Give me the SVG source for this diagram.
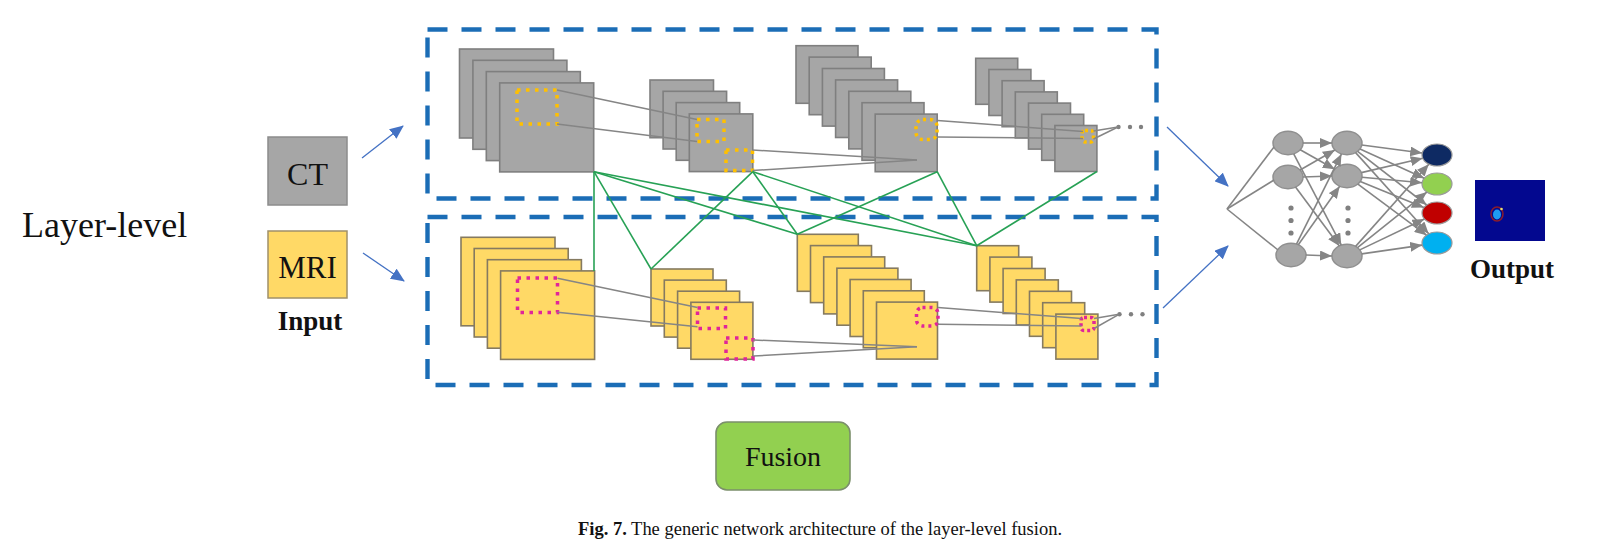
<svg xmlns="http://www.w3.org/2000/svg" width="1602" height="560" viewBox="0 0 1602 560">
<style>
.g{fill:#a6a6a6;stroke:#7f7f7f;stroke-width:1.6}
.y{fill:#ffd966;stroke:#857a60;stroke-width:1.6}
.dy{fill:none;stroke:#ffc000;stroke-width:3.5;stroke-dasharray:3.5 5.5}
.dm{fill:none;stroke:#e0259a;stroke-width:3.5;stroke-dasharray:3.5 5.5}
.gl{stroke:#858585;stroke-width:1.5;fill:none}
.grn{stroke:#27a155;stroke-width:1.6;fill:none}
.dash{fill:none;stroke:#1b6db6;stroke-width:4.4;stroke-dasharray:20 14}
.nn{fill:#a6a6a6;stroke:#8f8f8f;stroke-width:1.5}
.ne{stroke:#858585;stroke-width:1.6;fill:none}
.ar{stroke:#858585;stroke-width:1.6;fill:none;marker-end:url(#ag)}
.bl{stroke:#4472c4;stroke-width:1.3;fill:none;marker-end:url(#ab)}
.dot{fill:#808080}
.serif{font-family:"Liberation Serif","Times New Roman",serif;fill:#111}
</style>
<defs>
<marker id="ab" markerUnits="userSpaceOnUse" markerWidth="14" markerHeight="12" refX="13" refY="6" orient="auto"><path d="M0,0 L14,6 L0,12 z" fill="#4472c4"/></marker>
<marker id="ag" markerUnits="userSpaceOnUse" markerWidth="12" markerHeight="10" refX="12" refY="5" orient="auto"><path d="M0,0 L12,5 L0,10 z" fill="#858585"/></marker>
</defs>
<rect width="1602" height="560" fill="#ffffff"/>

<g id="label-layer-level"><text class="serif" x="22" y="237" font-size="36">Layer-level</text></g>

<g id="node-ct"><rect x="268" y="137" width="79" height="68" fill="#a6a6a6" stroke="#8c8c8c" stroke-width="1.5"/><text class="serif" x="307.5" y="185" font-size="32" text-anchor="middle">CT</text></g>
<g id="node-mri"><rect x="268" y="231" width="79" height="67" fill="#ffd966" stroke="#a0906a" stroke-width="1.5"/><text class="serif" x="307.5" y="278" font-size="31" text-anchor="middle">MRI</text></g>
<g id="label-input"><text class="serif" x="310" y="330" font-size="27" font-weight="bold" text-anchor="middle">Input</text></g>

<g id="box-ct-branch"><rect class="dash" x="427.5" y="29.5" width="729" height="169"/></g>
<g id="box-mri-branch"><rect class="dash" x="427.5" y="217" width="729" height="168"/></g>

<g id="ct-layer1">
<rect class="g" x="459.5" y="49" width="94" height="89"/>
<rect class="g" x="472.9" y="60.3" width="94" height="89"/>
<rect class="g" x="486.3" y="71.6" width="94" height="89"/>
<rect class="g" x="499.7" y="82.9" width="94" height="89"/>
<rect class="dy" x="517" y="90" width="40" height="34"/>
</g>
<g id="ct-layer2">
<rect class="g" x="650" y="80" width="63.5" height="57.7"/>
<rect class="g" x="663.1" y="91.3" width="63.5" height="57.7"/>
<rect class="g" x="676.2" y="102.6" width="63.5" height="57.7"/>
<rect class="g" x="689.3" y="113.9" width="63.5" height="57.7"/>
<rect class="dy" x="697" y="119.5" width="27" height="22"/>
<rect class="dy" x="726" y="150" width="26.5" height="20.5"/>
</g>
<g id="ct-layer3">
<rect class="g" x="796" y="45.7" width="62" height="57.6"/>
<rect class="g" x="809.2" y="57.1" width="62" height="57.6"/>
<rect class="g" x="822.4" y="68.5" width="62" height="57.6"/>
<rect class="g" x="835.6" y="79.9" width="62" height="57.6"/>
<rect class="g" x="848.8" y="91.3" width="62" height="57.6"/>
<rect class="g" x="862" y="102.7" width="62" height="57.6"/>
<rect class="g" x="875.2" y="114.1" width="62" height="57.6"/>
<rect class="dy" x="916" y="119.5" width="21" height="20" rx="7" style="stroke-dasharray:3 4"/>
</g>
<g id="ct-layer4">
<rect class="g" x="975.7" y="58.3" width="42" height="46"/>
<rect class="g" x="988.9" y="69.5" width="42" height="46"/>
<rect class="g" x="1002.1" y="80.7" width="42" height="46"/>
<rect class="g" x="1015.3" y="91.9" width="42" height="46"/>
<rect class="g" x="1028.5" y="103.1" width="42" height="46"/>
<rect class="g" x="1041.7" y="114.3" width="42" height="46"/>
<rect class="g" x="1054.9" y="125.5" width="42" height="46"/>
<rect class="dy" x="1082" y="130.5" width="11.5" height="11.5" rx="3" style="stroke-dasharray:3 3"/>
<circle class="dot" cx="1118.5" cy="127" r="2.2"/><circle class="dot" cx="1130" cy="127" r="2.2"/><circle class="dot" cx="1141" cy="127" r="2.2"/>
</g>

<g id="mri-layer1">
<rect class="y" x="461" y="237.3" width="94" height="88.5"/>
<rect class="y" x="474.2" y="248.5" width="94" height="88.5"/>
<rect class="y" x="487.4" y="259.7" width="94" height="88.5"/>
<rect class="y" x="500.6" y="270.9" width="94" height="88.5"/>
<rect class="dm" x="517.5" y="278" width="40" height="34.5"/>
</g>
<g id="mri-layer2">
<rect class="y" x="651" y="269" width="62" height="57"/>
<rect class="y" x="664.3" y="280.1" width="62" height="57"/>
<rect class="y" x="677.6" y="291.2" width="62" height="57"/>
<rect class="y" x="690.9" y="302.3" width="62" height="57"/>
<rect class="dm" x="697.5" y="308" width="28" height="20.5"/>
<rect class="dm" x="726" y="338" width="27" height="21"/>
</g>
<g id="mri-layer3">
<rect class="y" x="797.3" y="234.3" width="61" height="57"/>
<rect class="y" x="810.5" y="245.6" width="61" height="57"/>
<rect class="y" x="823.7" y="256.9" width="61" height="57"/>
<rect class="y" x="836.9" y="268.2" width="61" height="57"/>
<rect class="y" x="850.1" y="279.5" width="61" height="57"/>
<rect class="y" x="863.3" y="290.8" width="61" height="57"/>
<rect class="y" x="876.5" y="302.1" width="61" height="57"/>
<rect class="dm" x="916.5" y="307.5" width="21.5" height="18.5" rx="6" style="stroke-dasharray:3 4"/>
</g>
<g id="mri-layer4">
<rect class="y" x="976.7" y="245.7" width="42" height="45"/>
<rect class="y" x="989.9" y="257.1" width="42" height="45"/>
<rect class="y" x="1003.1" y="268.5" width="42" height="45"/>
<rect class="y" x="1016.3" y="279.9" width="42" height="45"/>
<rect class="y" x="1029.5" y="291.3" width="42" height="45"/>
<rect class="y" x="1042.7" y="302.7" width="42" height="45"/>
<rect class="y" x="1055.9" y="314.1" width="42" height="45"/>
<rect class="dm" x="1081" y="317.5" width="13" height="13" rx="3" style="stroke-dasharray:3 3"/>
<circle class="dot" cx="1119.5" cy="314.3" r="2.2"/><circle class="dot" cx="1131" cy="314.3" r="2.2"/><circle class="dot" cx="1142.5" cy="314.3" r="2.2"/>
</g>

<g id="nn-hidden1">
<ellipse class="nn" cx="1288" cy="143" rx="15" ry="11.7"/>
<ellipse class="nn" cx="1288" cy="177" rx="15" ry="11.7"/>
<ellipse class="nn" cx="1291" cy="255" rx="15" ry="11.7"/>
<circle class="dot" cx="1291" cy="208" r="2.6"/><circle class="dot" cx="1291" cy="220.5" r="2.6"/><circle class="dot" cx="1291" cy="233" r="2.6"/>
</g>
<g id="nn-hidden2">
<ellipse class="nn" cx="1347" cy="143" rx="15" ry="11.7"/>
<ellipse class="nn" cx="1347" cy="176" rx="15" ry="11.7"/>
<ellipse class="nn" cx="1347" cy="256" rx="15" ry="11.7"/>
<circle class="dot" cx="1348" cy="208" r="2.6"/><circle class="dot" cx="1348" cy="220.5" r="2.6"/><circle class="dot" cx="1348" cy="233" r="2.6"/>
</g>
<g id="nn-output">
<ellipse cx="1437" cy="155" rx="15" ry="11" fill="#0e2a63" stroke="#9a9a9a" stroke-width="1.2"/>
<ellipse cx="1437" cy="184" rx="15" ry="11" fill="#92d050" stroke="#9a9a9a" stroke-width="1.2"/>
<ellipse cx="1437" cy="213" rx="15" ry="11" fill="#c00000" stroke="#9a9a9a" stroke-width="1.2"/>
<ellipse cx="1437" cy="243" rx="15" ry="11" fill="#00b0f0" stroke="#9a9a9a" stroke-width="1.2"/>
</g>
<g id="node-output">
<rect x="1475" y="180" width="70" height="61" fill="#03088f"/>
<ellipse cx="1497" cy="214" rx="6" ry="7" fill="none" stroke="#8a1c2c" stroke-width="1.5"/>
<ellipse cx="1497" cy="214.5" rx="4" ry="5" fill="#1e9af0"/>
<circle cx="1501.5" cy="209" r="1.3" fill="#e8e070"/>
<text class="serif" x="1512" y="278" font-size="27" font-weight="bold" text-anchor="middle">Output</text>
</g>
<g id="node-fusion"><rect x="716" y="422" width="134" height="68" rx="11" fill="#92d050" stroke="#7b8f6b" stroke-width="1.6"/><text class="serif" x="783" y="466" font-size="28" text-anchor="middle">Fusion</text></g>

<g id="connectors">
<line class="bl" x1="362" y1="158" x2="403" y2="126"/>
<line class="bl" x1="363" y1="253" x2="404" y2="281"/>
<line class="bl" x1="1167" y1="127" x2="1228" y2="186"/>
<line class="bl" x1="1163" y1="308" x2="1228" y2="246"/>
<line class="gl" x1="557" y1="90" x2="697" y2="119.5"/>
<line class="gl" x1="557" y1="124" x2="697" y2="141.5"/>
<line class="gl" x1="752.5" y1="150" x2="917" y2="160"/>
<line class="gl" x1="752.5" y1="170.5" x2="917" y2="160"/>
<line class="gl" x1="937.5" y1="120.5" x2="1083" y2="131.5"/>
<line class="gl" x1="937.5" y1="137" x2="1083" y2="138.5"/>
<line class="gl" x1="1093.5" y1="131" x2="1118" y2="127"/>
<line class="gl" x1="1093.5" y1="139" x2="1118" y2="127"/>
<line class="gl" x1="557.5" y1="278.3" x2="697.5" y2="307.5"/>
<line class="gl" x1="557.5" y1="312.3" x2="697.5" y2="326.7"/>
<line class="gl" x1="753" y1="340" x2="917" y2="346.7"/>
<line class="gl" x1="753" y1="356" x2="917" y2="346.7"/>
<line class="gl" x1="938" y1="307.5" x2="1081.5" y2="318.5"/>
<line class="gl" x1="938" y1="324.3" x2="1081.5" y2="326"/>
<line class="gl" x1="1094" y1="318.5" x2="1119" y2="314.3"/>
<line class="gl" x1="1094" y1="328.5" x2="1119" y2="314.3"/>
<line class="grn" x1="594" y1="171.7" x2="594" y2="270.9"/>
<line class="grn" x1="594" y1="171.7" x2="651" y2="269"/>
<line class="grn" x1="594" y1="171.7" x2="797.3" y2="234.3"/>
<line class="grn" x1="594" y1="171.7" x2="976.7" y2="245.7"/>
<line class="grn" x1="752.8" y1="171.7" x2="651" y2="269"/>
<line class="grn" x1="752.8" y1="171.7" x2="797.3" y2="234.3"/>
<line class="grn" x1="752.8" y1="171.7" x2="976.7" y2="245.7"/>
<line class="grn" x1="937.2" y1="171.7" x2="797.3" y2="234.3"/>
<line class="grn" x1="937.2" y1="171.7" x2="976.7" y2="245.7"/>
<line class="grn" x1="1096.9" y1="171.5" x2="976.7" y2="245.7"/>
<line class="ne" x1="1227" y1="209" x2="1274" y2="147"/>
<line class="ne" x1="1227" y1="209" x2="1274" y2="180"/>
<line class="ne" x1="1227" y1="209" x2="1278" y2="250"/>
<line class="ar" x1="1303" y1="143" x2="1332" y2="143"/>
<line class="ar" x1="1300.2" y1="149.8" x2="1334.8" y2="169.2"/>
<line class="ar" x1="1293.7" y1="153.8" x2="1341.3" y2="245.2"/>
<line class="ar" x1="1300.1" y1="170" x2="1334.9" y2="150"/>
<line class="ar" x1="1303" y1="177" x2="1332" y2="176"/>
<line class="ar" x1="1295.5" y1="187.1" x2="1339.4" y2="245.9"/>
<line class="ar" x1="1296.5" y1="244.1" x2="1341.5" y2="153.9"/>
<line class="ar" x1="1298.3" y1="244.8" x2="1339.7" y2="186.2"/>
<line class="ar" x1="1306" y1="255" x2="1332" y2="256"/>
<line class="ar" x1="1361.8" y1="145" x2="1422.2" y2="153"/>
<line class="ar" x1="1360" y1="148.9" x2="1424.3" y2="178.2"/>
<line class="ar" x1="1357.6" y1="151.3" x2="1426.7" y2="205"/>
<line class="ar" x1="1355.6" y1="152.6" x2="1428.7" y2="233.8"/>
<line class="ar" x1="1361.4" y1="172.6" x2="1422.7" y2="158.3"/>
<line class="ar" x1="1361.9" y1="177.3" x2="1422.1" y2="182.7"/>
<line class="ar" x1="1360.3" y1="181.5" x2="1423.9" y2="207.6"/>
<line class="ar" x1="1357.9" y1="184.1" x2="1426.5" y2="235.2"/>
<line class="ar" x1="1355.6" y1="246.4" x2="1428.8" y2="164.2"/>
<line class="ar" x1="1357.5" y1="247.6" x2="1426.9" y2="192.1"/>
<line class="ar" x1="1359.8" y1="249.9" x2="1424.4" y2="219"/>
<line class="ar" x1="1361.8" y1="253.9" x2="1422.2" y2="245.1"/>
</g>

<g id="caption"><text class="serif" x="578" y="535" font-size="18.5" textLength="484" lengthAdjust="spacing"><tspan font-weight="bold">Fig. 7.</tspan> The generic network architecture of the layer-level fusion.</text></g>
</svg>
